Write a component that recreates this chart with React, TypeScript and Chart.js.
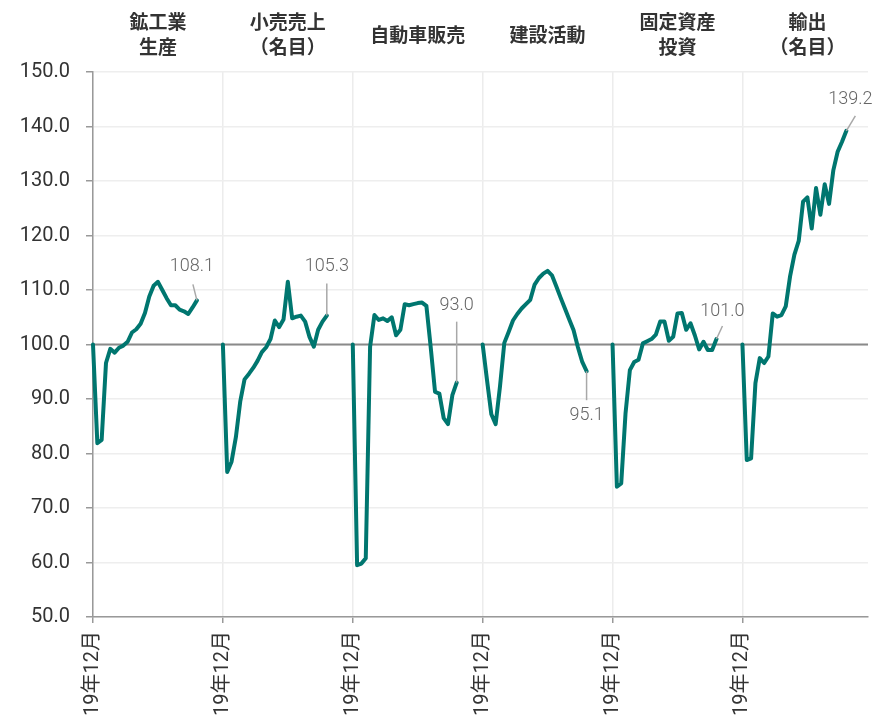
import React, { useEffect, useRef } from "react";
import { Chart, registerables } from "chart.js";

Chart.register(...registerables);

// ---- data ----
const panelTitles: string[][] = [
  ["鉱工業", "生産"],
  ["小売売上", "（名目）"],
  ["自動車販売"],
  ["建設活動"],
  ["固定資産", "投資"],
  ["輸出", "（名目）"],
];

const months: string[] = [
  "2019年12月",
  "2020年1月", "2020年2月", "2020年3月", "2020年4月", "2020年5月", "2020年6月",
  "2020年7月", "2020年8月", "2020年9月", "2020年10月", "2020年11月", "2020年12月",
  "2021年1月", "2021年2月", "2021年3月", "2021年4月", "2021年5月", "2021年6月",
  "2021年7月", "2021年8月", "2021年9月", "2021年10月", "2021年11月", "2021年12月",
];

const miningOutput = [100, 81.9, 82.5, 96.6, 99.2, 98.5, 99.4, 99.8, 100.5, 102.2, 102.8, 103.8, 105.8, 108.8, 110.8, 111.5, 110.0, 108.5, 107.2, 107.2, 106.4, 106.1, 105.6, 106.8, 108.1];
const retailSales = [100, 76.6, 78.5, 83.0, 89.5, 93.6, 94.6, 95.7, 97.0, 98.6, 99.5, 101.0, 104.4, 103.2, 104.6, 111.5, 104.8, 105.1, 105.3, 104.2, 101.4, 99.6, 102.7, 104.2, 105.3];
const autoSales = [100, 59.5, 59.8, 60.8, 99.6, 105.4, 104.5, 104.8, 104.3, 105.0, 101.7, 102.7, 107.4, 107.2, 107.4, 107.6, 107.7, 107.1, 99.5, 91.3, 91.0, 86.5, 85.4, 90.7, 93.0];
const construction = [100, 93.5, 87.2, 85.4, 92.3, 100.3, 102.3, 104.4, 105.6, 106.6, 107.4, 108.2, 111.0, 112.2, 113.0, 113.5, 112.7, 110.7, 108.6, 106.6, 104.6, 102.6, 99.5, 96.8, 95.1];
const fixedInvestment = [100, 73.9, 74.5, 87.4, 95.3, 96.8, 97.2, 100.2, 100.6, 101.0, 101.8, 104.2, 104.2, 100.7, 101.4, 105.7, 105.8, 102.7, 103.9, 101.7, 99.1, 100.5, 99.0, 99.0, 101.0];
const exportsNominal = [100, 78.8, 79.1, 92.9, 97.5, 96.6, 97.8, 105.7, 105.1, 105.4, 107.0, 112.5, 116.5, 119.0, 126.2, 127.0, 121.3, 128.7, 123.8, 129.4, 125.8, 132.0, 135.4, 137.2, 139.2];

const calloutText = ["108.1", "105.3", "93.0", "95.1", "101.0", "139.2"];

const yMin = 50;
const yMax = 150;
const yStep = 10;
const referenceValue = 100;
const gapLength = 5;

// ---- style for callouts (offsets from last point) ----
const calloutOffsets = [
  { lx: -4, ly: -16, tx: -5, ty: -34 },
  { lx: 0, ly: -32, tx: 0, ty: -49 },
  { lx: 0, ly: -61, tx: 0, ty: -77 },
  { lx: 0, ly: 29, tx: 0, ty: 44 },
  { lx: 6, ly: -13, tx: 6, ty: -28 },
  { lx: 9, ly: -15, tx: 4, ty: -31 },
];

const seriesList = [miningOutput, retailSales, autoSales, construction, fixedInvestment, exportsNominal];
const panelSize = months.length + gapLength;

const labels: string[] = [];
const values: (number | null)[] = [];
seriesList.forEach((s) => {
  months.forEach((m, i) => {
    labels.push(m);
    values.push(s[i]);
  });
  for (let g = 0; g < gapLength; g++) {
    labels.push("");
    values.push(null);
  }
});

const TEAL = "#00766F";

const overlayPlugin = {
  id: "overlay",
  beforeDatasetsDraw(chart: any) {
    const { ctx, chartArea, scales } = chart;
    const y = scales.y.getPixelForValue(referenceValue);
    ctx.save();
    ctx.strokeStyle = "#8a8a8a";
    ctx.lineWidth = 2;
    ctx.beginPath();
    ctx.moveTo(chartArea.left, y);
    ctx.lineTo(chartArea.right, y);
    ctx.stroke();
    ctx.restore();
  },
  afterDatasetsDraw(chart: any) {
    const { ctx, scales } = chart;
    const xs = scales.x;
    const step = xs.getPixelForValue(1) - xs.getPixelForValue(0);
    const meta = chart.getDatasetMeta(0);
    ctx.save();
    // titles
    ctx.fillStyle = "#333333";
    ctx.font = "bold 19px 'Noto Sans CJK JP', sans-serif";
    ctx.textAlign = "center";
    ctx.textBaseline = "middle";
    panelTitles.forEach((lines, p) => {
      const cx = xs.getPixelForValue(p * panelSize) + step * (panelSize / 2);
      const lh = 25;
      const startY = 26.5 - ((lines.length - 1) * lh) / 2;
      lines.forEach((t, k) => ctx.fillText(t, cx, startY + k * lh));
    });
    // callouts
    ctx.font = "300 18px Roboto, sans-serif";
    calloutText.forEach((t, p) => {
      const idx = p * panelSize + months.length - 1;
      const pt = meta.data[idx];
      const o = calloutOffsets[p];
      ctx.strokeStyle = "#a8a8a8";
      ctx.lineWidth = 1.5;
      ctx.beginPath();
      ctx.moveTo(pt.x, pt.y);
      ctx.lineTo(pt.x + o.lx, pt.y + o.ly);
      ctx.stroke();
      ctx.fillStyle = "#666666";
      ctx.fillText(t, pt.x + o.tx, pt.y + o.ty);
    });
    ctx.restore();
  },
};

export default function App() {
  const ref = useRef<HTMLCanvasElement | null>(null);
  useEffect(() => {
    if (!ref.current) return;
    const chart = new Chart(ref.current, {
      type: "line",
      data: {
        labels,
        datasets: [
          {
            data: values,
            borderColor: TEAL,
            borderWidth: 4,
            pointRadius: 0,
            pointHoverRadius: 0,
            tension: 0,
            spanGaps: false,
            fill: false,
            borderJoinStyle: "round",
            borderCapStyle: "round",
          },
        ],
      },
      options: {
        responsive: false,
        animation: false,
        events: [],
        layout: { padding: { top: 64, right: 5, left: 0, bottom: 0 } },
        plugins: { legend: { display: false }, tooltip: { enabled: false } },
        scales: {
          x: {
            type: "category",
            offset: false,
            afterFit(s: any) {
              s.height = 98;
              s.paddingRight = 0;
              s.paddingLeft = 0;
            },
            grid: {
              color: (c: any) => (c.index % panelSize === 0 ? "#ececec" : "rgba(0,0,0,0)"),
              tickColor: (c: any) => (c.index % panelSize === 0 ? "#999999" : "rgba(0,0,0,0)"),
              tickLength: 6,
              lineWidth: 1.5,
            },
            border: { color: "#999999", width: 1.5 },
            ticks: {
              autoSkip: false,
              maxRotation: 90,
              minRotation: 90,
              padding: 8,
              color: "#333333",
              font: { family: "Roboto, 'Noto Sans CJK JP', sans-serif", size: 20 },
              callback: (_v: any, i: number) => (i % panelSize === 0 ? labels[i] : ""),
            },
          },
          y: {
            min: yMin,
            max: yMax,
            afterFit(s: any) {
              s.width = 85;
            },
            grid: { color: "#eeeeee", lineWidth: 1.5, tickColor: "#999999", tickLength: 7 },
            border: { color: "#999999", width: 1.5 },
            ticks: {
              stepSize: yStep,
              padding: 16,
              color: "#333333",
              font: { family: "Roboto, sans-serif", size: 20 },
              callback: (v: any) => Number(v).toFixed(1),
            },
          },
        },
      },
      plugins: [overlayPlugin],
    });
    return () => chart.destroy();
  }, []);
  return (
    <div style={{ width: 865, height: 707 }}>
      <canvas ref={ref} width={865} height={707} style={{ display: "block" }} />
    </div>
  );
}
